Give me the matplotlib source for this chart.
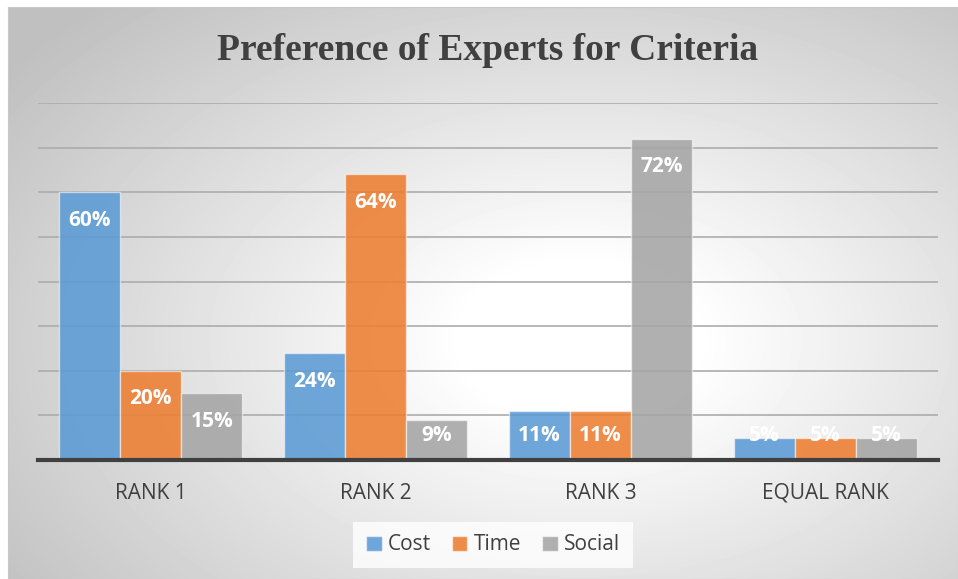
import numpy as np
import matplotlib
matplotlib.use("Agg")
import matplotlib.pyplot as plt
from matplotlib.colors import to_rgba
from matplotlib.patches import Patch

# Share of experts ranking each criterion
categories = ["RANK 1", "RANK 2", "RANK 3", "EQUAL RANK"]
series_names = ["Cost", "Time", "Social"]
cost = [0.60, 0.24, 0.11, 0.05]
time = [0.20, 0.64, 0.11, 0.05]
social = [0.15, 0.09, 0.72, 0.05]
colors = ["#5B9BD5", "#ED7D31", "#A5A5A5"]

W, H = 958, 579
fig = plt.figure(figsize=(W / 100, H / 100), dpi=100)
fig.patch.set_facecolor("white")

# Radial grey-to-white background of the chart area
bg = fig.add_axes([8 / W, 0, 1 - 8 / W, 1 - 7 / H], zorder=0)
yy, xx = np.mgrid[7:579, 8:958].astype(float)
d = np.sqrt(((xx - 580) / 470) ** 2 + ((yy - 340) / 300) ** 2)
shade = np.clip(255 - 50 * np.clip(d - 0.25, 0, None), 192, 255) / 255
bg.imshow(shade, cmap="gray", vmin=0, vmax=1, aspect="auto", interpolation="bilinear")
bg.set_xticks([])
bg.set_yticks([])
for s in bg.spines.values():
    s.set_color("#c8c8c8")
    s.set_linewidth(0.8)

ax = fig.add_axes([38 / W, 119 / H, 900 / W, 357 / H], zorder=1)
ax.set_facecolor("none")

x = np.arange(len(categories))
width = 0.272
all_series = [cost, time, social]
for i, (vals, c) in enumerate(zip(all_series, colors)):
    pos = x + (i - 1) * width
    ax.bar(pos, vals, width, facecolor=to_rgba(c, 0.88),
           edgecolor=(1, 1, 1, 0.55), linewidth=1, zorder=3)
    for px, v in zip(pos, vals):
        ax.text(px, max(v - 0.063, 0.056), f"{round(v * 100)}%",
                ha="center", va="center", color="white", fontsize=15,
                fontweight="bold", family="Open Sans", zorder=5)

ax.set_xlim(-0.5, len(categories) - 0.5)
ax.set_ylim(0, 0.8)
ax.set_yticks(np.arange(0, 0.81, 0.1))
ax.yaxis.grid(True, color="#acacac", linewidth=1.2)
ax.set_axisbelow(True)
ax.axhline(0, color="#404040", linewidth=3, zorder=4, clip_on=False)
for s in ax.spines.values():
    s.set_visible(False)
ax.tick_params(left=False, labelleft=False, bottom=False, pad=13)
ax.set_xticks(x, categories)
for lbl in ax.get_xticklabels():
    lbl.set_fontsize(15)
    lbl.set_family("Open Sans")
    lbl.set_color("#404040")

fig.text(488 / W, 1 - 51 / H, "Preference of Experts for Criteria",
         ha="center", va="center", fontsize=27, fontweight="bold",
         family="Liberation Serif", color="#404040")

handles = [Patch(facecolor=to_rgba(c, 0.88), edgecolor=(1, 1, 1, 0.55), label=n)
           for c, n in zip(colors, series_names)]
leg = fig.legend(handles=handles, loc="center", bbox_to_anchor=(493 / W, 1 - 545 / H),
                 ncol=3, frameon=True, handlelength=0.75, handleheight=0.75,
                 handletextpad=0.3, columnspacing=1.0,
                 prop={"family": "Open Sans", "size": 15})
leg.get_frame().set_facecolor((1, 1, 1, 0.18))
leg.get_frame().set_edgecolor("none")
leg.get_frame().set_boxstyle("square", pad=0.2)
for t in leg.get_texts():
    t.set_color("#404040")

fig.savefig("out.png", dpi=100)
